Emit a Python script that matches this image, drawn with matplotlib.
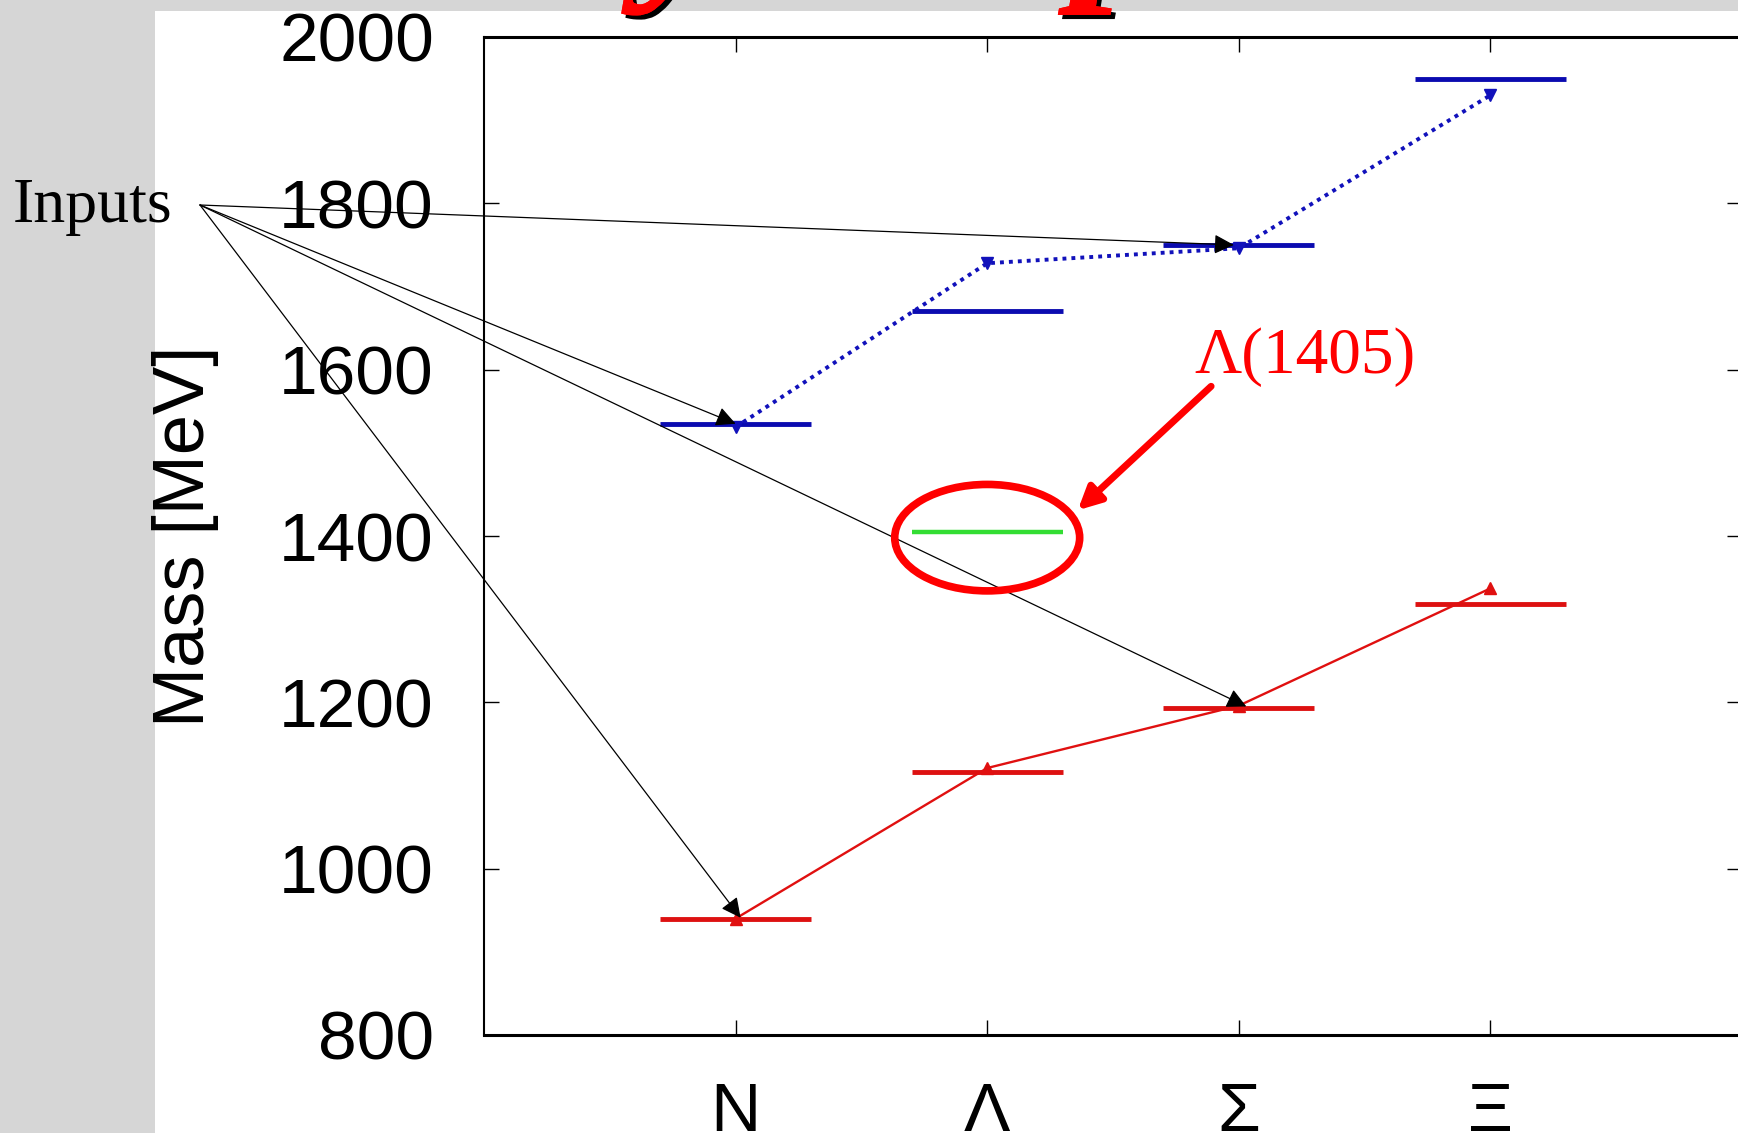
import matplotlib
matplotlib.use("Agg")
from matplotlib import pyplot as plt
from matplotlib.patches import Rectangle, Ellipse
import matplotlib.patheffects as pe

# baryon octet masses [MeV]
baryons = ['N', 'Λ', 'Σ', 'Ξ']
ground_exp = [939, 1116, 1193, 1318]
ground_model = [940, 1121, 1196, 1337]
excited_exp = [1535, 1670, 1750, 1950]
excited_model = [1531, 1728, 1746, 1930]
lambda1405 = 1405

xpos = [1, 2, 3, 4]
half = 0.3

fig = plt.figure(figsize=(17.38, 11.33), dpi=100)
fig.patch.set_facecolor('#d6d6d6')
# white slide panel
fig.patches.append(Rectangle((155 / 1738, 0), 1, 1 - 11 / 1133, transform=fig.transFigure,
                             facecolor='white', edgecolor='none', zorder=-10))

ax = fig.add_axes([484 / 1738, 98 / 1133, 1258 / 1738, 998 / 1133])
ax.set_facecolor('white')

for x, m in zip(xpos, ground_exp):
    ax.plot([x - half, x + half], [m, m], color='#dd1111', lw=3.5, solid_capstyle='butt')
for x, m in zip(xpos, excited_exp):
    ax.plot([x - half, x + half], [m, m], color='#0b0bb0', lw=3.5, solid_capstyle='butt')
ax.plot([2 - half, 2 + half], [lambda1405, lambda1405], color='#33dd33', lw=3.2, solid_capstyle='butt')

ax.plot(xpos, excited_model, color='#1111bb', lw=2.8, linestyle=(0, (1, 1.3)),
        marker='v', markersize=8)
ax.plot(xpos, ground_model, color='#e01010', lw=1.7, marker='^', markersize=8)

ax.set_xlim(0, 5)
ax.set_ylim(800, 2000)
ax.set_xticks(xpos)
ax.set_xticklabels(baryons)
ax.set_yticks([800, 1000, 1200, 1400, 1600, 1800, 2000])
ax.tick_params(direction='in', top=True, right=True, length=11, width=1)
ax.tick_params(axis='y', pad=36, labelsize=50)
ax.tick_params(axis='x', pad=33, labelsize=50)
for lab in ax.get_xticklabels() + ax.get_yticklabels():
    lab.set_family('Liberation Sans')
for s in ax.spines.values():
    s.set_linewidth(1.5)
ax.spines['top'].set_linewidth(2.2)
ax.spines['bottom'].set_linewidth(2.2)

ax.set_ylabel('Mass [MeV]', family='Liberation Sans', fontsize=52, va='center')
ax.yaxis.set_label_coords(-0.237, 0.5)

# Lambda(1405) highlight
ax.add_patch(Ellipse((2, 1398), 0.735, 128, fill=False, edgecolor='red', lw=5.5, zorder=5))
ax.text(3.264, 1615, 'Λ(1405)', color='red', family='Liberation Serif', fontsize=47,
        ha='center', va='center')
ax.annotate('', xy=(2.36, 1431), xytext=(2.89, 1580),
            arrowprops=dict(arrowstyle='-|>', lw=5, color='red', mutation_scale=34,
                            shrinkA=0, shrinkB=0))

# inputs
fig.text(13 / 1738, 1 - 207 / 1133, 'Inputs', family='Liberation Serif', fontsize=46,
         ha='left', va='center')
start = (200 / 1738, 1 - 205 / 1133)
targets = [(2.98, 1750), (1.0, 1535), (3.03, 1195), (1.02, 941)]
for tx, ty in targets:
    ax.annotate('', xy=(tx, ty), xytext=start, textcoords='figure fraction',
                annotation_clip=False,
                arrowprops=dict(arrowstyle='-|>', lw=0.9, color='black', mutation_scale=30,
                                shrinkA=0, shrinkB=0))

# slide title, mostly cut off at the top
fig.text(328 / 1738, 1 + 28 / 1133, 'Baryon spectrum', family='Liberation Serif',
         weight='bold', style='italic', fontsize=145, color='red', ha='left', va='baseline',
         path_effects=[pe.withSimplePatchShadow(offset=(3, -3), shadow_rgbFace='black', alpha=1),
                       pe.Normal()])

fig.savefig('out.png', dpi=100, facecolor=fig.get_facecolor())
